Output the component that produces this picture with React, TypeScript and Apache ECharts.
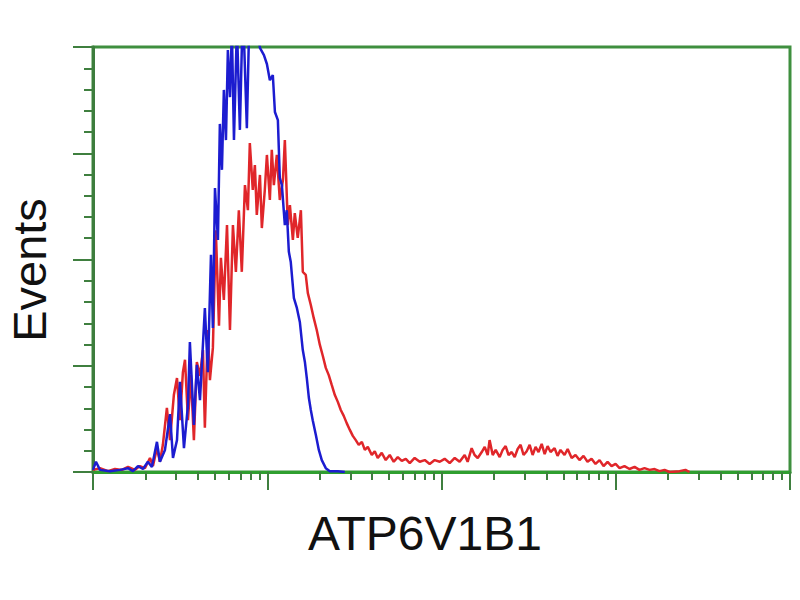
import React, { useEffect, useRef } from "react";
import * as echarts from "echarts";

// x positions are log10 of fluorescence intensity (decades), y values are event counts (0-100 scale)
const blueLog = [
  0.0, 0.017, 0.04, 0.097, 0.155, 0.201, 0.229, 0.258, 0.287, 0.315, 0.338, 0.367, 0.384, 0.413,
  0.442, 0.459, 0.482, 0.499, 0.522, 0.545, 0.556, 0.579, 0.596, 0.614, 0.642, 0.659, 0.677, 0.688,
  0.7, 0.717, 0.728, 0.74, 0.751, 0.763, 0.774, 0.786, 0.797, 0.809, 0.826, 0.843, 0.86, 0.883,
  0.9, 0.929, 0.958, 0.981, 0.998, 1.015, 1.032, 1.044, 1.061, 1.072, 1.084, 1.101, 1.112, 1.124,
  1.135, 1.153, 1.17, 1.187, 1.204, 1.216, 1.227, 1.239, 1.25, 1.261, 1.279, 1.296, 1.313, 1.336,
  1.359, 1.405, 1.445,
];
const blueEvents = [
  0.5, 2.4, 0.5, 0.2, 0.5, 0.9, 0.2, 1.4, 0.7, 2.4, 1.2, 7.1, 2.4, 5.2,
  13.6, 3.3, 7.5, 21.2, 5.6, 15.8, 30.6, 11.1, 25.2, 16.9, 38.6, 23.5, 51.1, 33.9,
  66.8, 54.6, 81.9, 71.1, 89.9, 78.1, 99.3, 88.2, 104, 78.1, 105, 80.5, 110, 80.9,
  112, 108, 99.8, 98.1, 96.0, 92.2, 93.4, 84.7, 82.8, 69.2, 67.5, 58.1, 61.6, 51.8,
  49.4, 40.9, 38.6, 35.3, 28.7, 25.9, 22.1, 17.4, 14.6, 12.2, 8.7, 5.2, 2.8, 0.9,
  0.2, 0.2, 0,
];

const redLog = [
  0.0, 0.04, 0.086, 0.126, 0.166, 0.201, 0.241, 0.269, 0.298, 0.327, 0.344, 0.367, 0.384, 0.401,
  0.424, 0.442, 0.464, 0.482, 0.499, 0.516, 0.528, 0.545, 0.562, 0.579, 0.596, 0.614, 0.631, 0.642,
  0.659, 0.671, 0.688, 0.705, 0.723, 0.734, 0.751, 0.769, 0.786, 0.803, 0.82, 0.837, 0.854, 0.872,
  0.889, 0.9, 0.917, 0.929, 0.94, 0.958, 0.969, 0.986, 0.998, 1.015, 1.026, 1.038, 1.055, 1.072,
  1.09, 1.101, 1.118, 1.13, 1.147, 1.158, 1.175, 1.193, 1.204, 1.221, 1.233, 1.25, 1.267, 1.284,
  1.302, 1.319, 1.336, 1.353, 1.37, 1.388, 1.405, 1.422, 1.439, 1.456, 1.474, 1.491, 1.508, 1.525,
  1.543, 1.56, 1.577, 1.6, 1.617, 1.634, 1.657, 1.68, 1.703, 1.726, 1.749, 1.772, 1.795, 1.818,
  1.846, 1.875, 1.904, 1.932, 1.961, 1.99, 2.018, 2.047, 2.076, 2.104, 2.133, 2.15, 2.173, 2.19,
  2.208, 2.231, 2.248, 2.265, 2.276, 2.294, 2.311, 2.334, 2.351, 2.368, 2.385, 2.403, 2.42, 2.437,
  2.454, 2.471, 2.489, 2.506, 2.523, 2.54, 2.557, 2.575, 2.592, 2.609, 2.626, 2.649, 2.666, 2.683,
  2.706, 2.724, 2.747, 2.769, 2.792, 2.815, 2.838, 2.861, 2.884, 2.907, 2.93, 2.953, 2.976, 2.999,
  3.022, 3.05, 3.079, 3.108, 3.136, 3.165, 3.194, 3.223, 3.251, 3.28, 3.309, 3.366, 3.4, 3.423,
];
const redEvents = [
  0.5, 0.9, 0.2, 0.7, 0.5, 1.2, 0.5, 1.4, 0.9, 3.3, 1.4, 5.6, 2.4, 6.4,
  15.1, 7.5, 18.1, 22.1, 12.2, 23.5, 26.4, 12.2, 22.8, 7.5, 25.9, 22.6, 28.7, 10.4,
  33.4, 21.6, 29.2, 56.9, 34.4, 50.4, 40.5, 58.1, 33.4, 58.1, 47.1, 61.6, 47.1, 67.5,
  61.6, 77.4, 66.4, 72.2, 60.5, 69.9, 57.4, 66.4, 74.6, 64.0, 75.8, 67.5, 74.6, 64.0,
  68.7, 78.1, 58.1, 62.8, 54.6, 60.9, 55.1, 61.6, 47.1, 46.4, 42.1, 39.3, 36.2, 33.4,
  29.9, 27.3, 24.5, 22.8, 20.5, 18.1, 16.5, 14.6, 13.2, 11.5, 9.9, 8.5, 7.5, 6.4,
  7.1, 5.2, 5.9, 4.0, 4.9, 3.3, 4.5, 2.8, 4.0, 2.4, 3.5, 2.6, 3.1, 2.1,
  3.3, 2.4, 2.8, 1.9, 2.8, 2.4, 3.1, 2.1, 3.3, 2.4, 4.0, 2.4, 5.6, 4.0,
  3.3, 4.7, 5.9, 4.0, 7.5, 4.0, 5.2, 3.5, 5.2, 6.1, 4.0, 4.7, 3.5, 5.4,
  6.4, 4.0, 4.9, 6.4, 4.0, 5.9, 4.7, 6.6, 4.2, 6.1, 4.7, 5.6, 3.8, 5.2,
  4.0, 5.4, 3.3, 4.0, 2.8, 3.8, 2.4, 3.1, 1.9, 2.8, 1.4, 2.4, 1.4, 1.9,
  0.9, 1.4, 0.7, 1.2, 0.5, 0.9, 0.5, 0.7, 0.2, 0.5, 0, 0.2, 0.5, 0,
];

const decades = [0, 1, 2, 3, 4];
const minorMultipliers = [2, 3, 4, 5, 6, 7, 8, 9];
const yMax = 100;
const yInterval = 25;
const xTitle = "ATP6V1B1";
const yTitle = "Events";

export default function App() {
  const ref = useRef<HTMLDivElement>(null);
  useEffect(() => {
    const chart = echarts.init(ref.current as HTMLDivElement, null, { renderer: "svg" });
    const zip = (xs: number[], ys: number[]) => xs.map((x, i) => [x, ys[i]]);
    const minorVals = decades
      .slice(0, -1)
      .flatMap((d) => minorMultipliers.map((m) => d + Math.log10(m)));
    const tickColor = "#3f7f3f";
    chart.setOption({
      animation: false,
      backgroundColor: "#ffffff",
      grid: {
        left: 93,
        right: 10,
        top: 47,
        bottom: 128,
        show: true,
        borderColor: "#3f8f3f",
        borderWidth: 3,
      },
      xAxis: [
        {
          type: "value",
          min: decades[0],
          max: decades[decades.length - 1],
          interval: 1,
          axisLine: { show: true, onZero: false, lineStyle: { color: "#2f9f2f", width: 3 } },
          axisTick: { show: true, inside: false, length: 18, lineStyle: { color: tickColor, width: 2 } },
          axisLabel: { show: false },
          splitLine: { show: false },
        },
        {
          type: "value",
          position: "bottom",
          min: decades[0],
          max: decades[decades.length - 1],
          axisLine: { show: false, onZero: false },
          axisTick: {
            show: true,
            inside: false,
            length: 8,
            customValues: minorVals,
            lineStyle: { color: tickColor, width: 2 },
          },
          axisLabel: { show: false },
          splitLine: { show: false },
        },
      ],
      yAxis: {
        type: "value",
        min: 0,
        max: yMax,
        interval: yInterval,
        axisLine: { show: true, onZero: false, lineStyle: { color: "#3d7d3d", width: 3 } },
        axisTick: { show: true, inside: false, length: 20, lineStyle: { color: tickColor, width: 2 } },
        minorTick: { show: true, splitNumber: 5, length: 9, lineStyle: { color: tickColor, width: 2 } },
        axisLabel: { show: false },
        splitLine: { show: false },
        minorSplitLine: { show: false },
      },
      graphic: [
        {
          type: "text",
          x: 29,
          y: 270,
          rotation: Math.PI / 2,
          style: {
            text: yTitle,
            fontFamily: "Liberation Sans, Arial, sans-serif",
            fontSize: 47,
            fill: "#111111",
            align: "center",
            verticalAlign: "middle",
          },
        },
        {
          type: "text",
          x: 425,
          y: 533,
          style: {
            text: xTitle,
            fontFamily: "Liberation Sans, Arial, sans-serif",
            fontSize: 48,
            fill: "#111111",
            align: "center",
            verticalAlign: "middle",
          },
        },
      ],
      series: [
        {
          type: "line",
          name: "red",
          data: zip(redLog, redEvents),
          showSymbol: false,
          clip: true,
          lineStyle: { color: "#e0262a", width: 2.5 },
          z: 3,
        },
        {
          type: "line",
          name: "blue",
          data: zip(blueLog, blueEvents),
          showSymbol: false,
          clip: true,
          lineStyle: { color: "#1c1cd0", width: 2.5 },
          z: 4,
        },
      ],
    });
    return () => chart.dispose();
  }, []);
  return (
    <div
      ref={ref}
      style={{ position: "fixed", left: 0, top: 0, width: 800, height: 600, background: "#fff" }}
    />
  );
}
